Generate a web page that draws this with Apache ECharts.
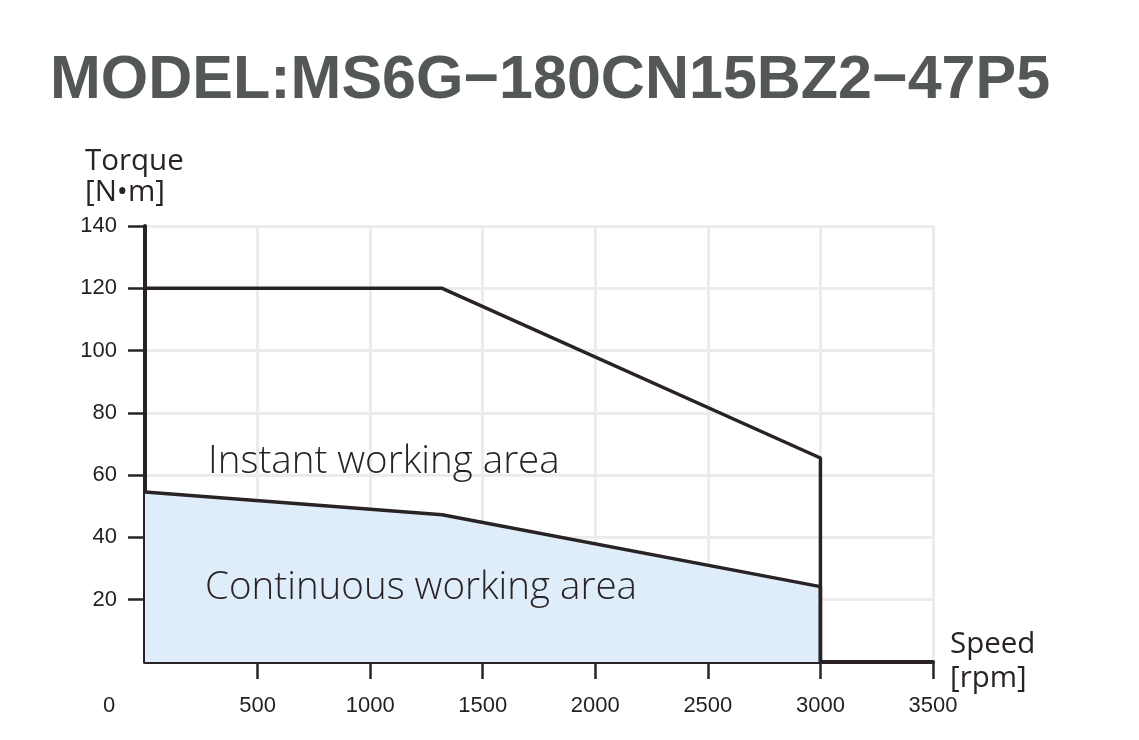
<!DOCTYPE html>
<html><head><meta charset="utf-8">
<script src="https://cdn.jsdelivr.net/npm/echarts@6/dist/echarts.min.js"></script>
<style>html,body{margin:0;padding:0;background:#fff}#c{width:1139px;height:740px}</style>
</head><body><div id="c"></div>
<script>
const titleText = 'MODEL:MS6G\u2212180CN15BZ2\u221247P5';
const xName = 'Speed\n[rpm]';
const yName = 'Torque\n[N\u2022m]';
const xTicks = [0, 500, 1000, 1500, 2000, 2500, 3000, 3500];
const yTicks = [20, 40, 60, 80, 100, 120, 140];
const instantCurve = [[0, 120], [1320, 120], [3000, 65.5], [3000, 0]];
const continuousCurve = [[0, 54.6], [1320, 47.3], [3000, 24.2], [3000, 0]];
const areaLabels = ['Instant working area', 'Continuous working area'];

const dark = '#2a2325';
const labelFont = '"Liberation Sans", Arial, sans-serif';
const humanFont = '"Open Sans", "Noto Sans", sans-serif';

const chart = echarts.init(document.getElementById('c'));
chart.setOption({
  animation: false,
  backgroundColor: '#fff',
  title: {
    text: titleText, left: 45, top: 46,
    textStyle: { fontFamily: labelFont, fontWeight: 'bold', fontSize: 61, color: '#545757' }
  },
  grid: { left: 145, right: 206, top: 226, bottom: 78, containLabel: false },
  xAxis: {
    type: 'value', min: 0, max: 3500, interval: 500,
    name: xName, nameLocation: 'end', nameGap: 17, nameMoveOverlap: false,
    nameTextStyle: { fontFamily: humanFont, fontWeight: 400, fontSize: 29.5, color: dark, lineHeight: 34, align: 'left', padding: [0, 0, 8, 0] },
    axisLine: { show: true, lineStyle: { color: dark, width: 4 } },
    axisTick: { show: true, inside: false, length: 17, customValues: xTicks.filter(v => v > 0), lineStyle: { color: dark, width: 2.5 } },
    axisLabel: {
      show: true, margin: 33, customValues: xTicks,
      fontFamily: labelFont, fontSize: 22, color: '#231f20',
      formatter: v => v === 0 ? '{z|0}' : String(v),
      rich: { z: { fontFamily: labelFont, fontSize: 22, color: '#231f20', padding: [0, 72, 0, 0] } }
    },
    splitLine: { show: true, lineStyle: { color: '#ececec', width: 3 } }
  },
  yAxis: {
    type: 'value', min: 0, max: 140, interval: 20,
    axisLine: { show: true, lineStyle: { color: dark, width: 4 } },
    axisTick: { show: true, inside: false, length: 17, customValues: yTicks, lineStyle: { color: dark, width: 2.5 } },
    axisLabel: { show: true, margin: 28, customValues: yTicks, fontFamily: labelFont, fontSize: 22, color: '#231f20' },
    splitLine: { show: true, lineStyle: { color: '#ececec', width: 3 } }
  },
  series: [
    {
      name: 'Continuous', type: 'line', data: continuousCurve, showSymbol: false, symbol: 'none',
      lineStyle: { color: dark, width: 3.5 }, areaStyle: { color: '#deedf9', opacity: 1 }, z: 3
    },
    {
      name: 'Instant', type: 'line', data: instantCurve, showSymbol: false, symbol: 'none',
      lineStyle: { color: dark, width: 3.5 }, z: 4
    }
  ]
});

const p1 = chart.convertToPixel({ gridIndex: 0 }, [280, 64.2]);
const p2 = chart.convertToPixel({ gridIndex: 0 }, [267, 23.8]);
const pTop = chart.convertToPixel({ gridIndex: 0 }, [0, 140]);
chart.setOption({
  graphic: [
    { type: 'text', x: pTop[0] - 60, y: pTop[1] - 18, z: 10,
      style: { text: yName, fontFamily: humanFont, fontWeight: 400, fontSize: 29.5, lineHeight: 31, fill: dark, align: 'left', verticalAlign: 'bottom' } },
    { type: 'text', x: p1[0], y: p1[1], z: 10,
      style: { text: areaLabels[0], fontFamily: humanFont, fontWeight: 300, fontSize: 38.5, fill: dark, align: 'left', verticalAlign: 'middle' } },
    { type: 'text', x: p2[0], y: p2[1], z: 10,
      style: { text: areaLabels[1], fontFamily: humanFont, fontWeight: 300, fontSize: 38.5, fill: dark, align: 'left', verticalAlign: 'middle' } }
  ]
});
</script></body></html>
